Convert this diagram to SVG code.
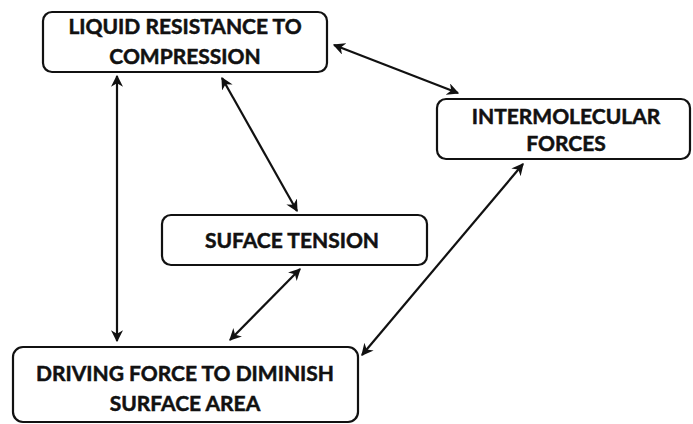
<svg xmlns="http://www.w3.org/2000/svg" width="693" height="424" viewBox="0 0 693 424">
<defs>
<marker id="ah" viewBox="0 0 10 10" refX="9" refY="5" markerWidth="5.5" markerHeight="5.5" orient="auto-start-reverse" markerUnits="strokeWidth">
<path d="M0,0 L10,5 L0,10 L3,5 z" fill="#111"/>
</marker>
<style>
.box{fill:#fff;stroke:#111;stroke-width:2.2}
.t{font-family:Lato,"Open Sans",sans-serif;font-weight:bold;font-size:21px;fill:#111;stroke:#111;stroke-width:0.5;text-anchor:middle;letter-spacing:0px}
.c{stroke:#111;stroke-width:2.2;fill:none;marker-start:url(#ah);marker-end:url(#ah)}
</style>
</defs>
<rect width="693" height="424" fill="#fff"/>
<g id="connectors">
<line class="c" x1="117" y1="76" x2="117" y2="341"/>
<line class="c" x1="222" y1="78" x2="297" y2="211"/>
<line class="c" x1="334" y1="45" x2="458" y2="93"/>
<line class="c" x1="300" y1="269" x2="230" y2="340"/>
<line class="c" x1="523" y1="164" x2="362" y2="355"/>
</g>
<g id="n1">
<rect class="box" x="43" y="12" width="284" height="60" rx="9"/>
<text class="t" x="185" y="34">LIQUID RESISTANCE TO</text>
<text class="t" x="185" y="64">COMPRESSION</text>
</g>
<g id="n2">
<rect class="box" x="437" y="99" width="253" height="60" rx="9"/>
<text class="t" x="566" y="124">INTERMOLECULAR</text>
<text class="t" x="566" y="151">FORCES</text>
</g>
<g id="n3">
<rect class="box" x="162" y="215" width="265" height="50" rx="9"/>
<text class="t" x="292" y="248">SUFACE TENSION</text>
</g>
<g id="n4">
<rect class="box" x="13" y="347" width="345" height="75" rx="10"/>
<text class="t" x="185" y="381">DRIVING FORCE TO DIMINISH</text>
<text class="t" x="185" y="411">SURFACE AREA</text>
</g>
</svg>
